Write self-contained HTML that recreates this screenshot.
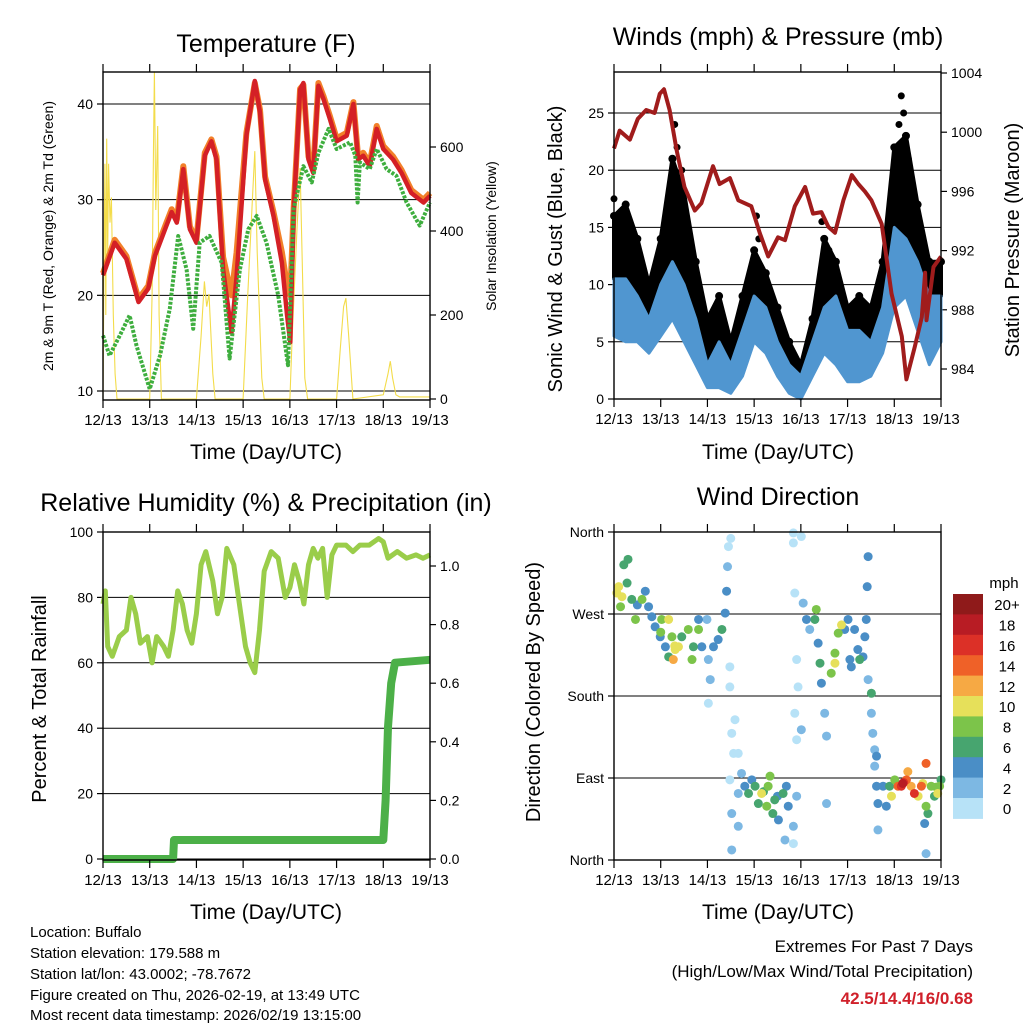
<!DOCTYPE html>
<html><head><meta charset="utf-8">
<style>
html,body{margin:0;padding:0;background:#fff;}
svg{display:block;font-family:"Liberation Sans",Arial,sans-serif;}
</style></head>
<body>
<svg id="fig" width="1024" height="1024" viewBox="0 0 1024 1024" xmlns="http://www.w3.org/2000/svg">
<rect width="1024" height="1024" fill="#fff"/>
<text x="266" y="52" font-size="25" text-anchor="middle">Temperature (F)</text>
<text x="778" y="45" font-size="25" text-anchor="middle">Winds (mph) &amp; Pressure (mb)</text>
<text x="266" y="511" font-size="25" text-anchor="middle">Relative Humidity (%) &amp; Precipitation (in)</text>
<text x="778" y="505" font-size="25" text-anchor="middle">Wind Direction</text>

<text x="266" y="459" font-size="21" text-anchor="middle">Time (Day/UTC)</text>
<text x="778" y="459" font-size="21" text-anchor="middle">Time (Day/UTC)</text>
<text x="266" y="919" font-size="21" text-anchor="middle">Time (Day/UTC)</text>
<text x="778" y="919" font-size="21" text-anchor="middle">Time (Day/UTC)</text>

<text transform="translate(53,236) rotate(-90)" font-size="14" text-anchor="middle">2m &amp; 9m T (Red, Orange) &amp; 2m Td (Green)</text>
<text transform="translate(496,236) rotate(-90)" font-size="14" text-anchor="middle">Solar Insolation (Yellow)</text>
<text transform="translate(562,249) rotate(-90)" font-size="20" text-anchor="middle">Sonic Wind &amp; Gust (Blue, Black)</text>
<text transform="translate(1019,240) rotate(-90)" font-size="20" text-anchor="middle">Station Pressure (Maroon)</text>
<text transform="translate(46,699) rotate(-90)" font-size="20" text-anchor="middle">Percent &amp; Total Rainfall</text>
<text transform="translate(540,692) rotate(-90)" font-size="20" text-anchor="middle">Direction (Colored By Speed)</text>

<g font-size="15">
<text x="30" y="937">Location: Buffalo</text>
<text x="30" y="958">Station elevation: 179.588 m</text>
<text x="30" y="979">Station lat/lon: 43.0002; -78.7672</text>
<text x="30" y="1000">Figure created on Thu, 2026-02-19, at 13:49 UTC</text>
<text x="30" y="1020">Most recent data timestamp: 2026/02/19 13:15:00</text>
</g>
<g font-size="17" text-anchor="end">
<text x="973" y="952">Extremes For Past 7 Days</text>
<text x="973" y="977">(High/Low/Max Wind/Total Precipitation)</text>
<text x="973" y="1004" fill="#d0202a" font-weight="bold">42.5/14.4/16/0.68</text>
</g>
<g id="layer"></g>
</svg>
<script>
const dayLabels=["12/13","13/13","14/13","15/13","16/13","17/13","18/13","19/13"];
// Temperature (F) 2m red
const tempT=[0,0.25,0.5,0.76,0.97,1.11,1.36,1.47,1.58,1.72,1.86,2.0,2.18,2.32,2.43,2.57,2.75,2.86,3.07,3.25,3.36,3.47,3.65,3.83,3.94,4.01,4.08,4.22,4.29,4.40,4.5,4.61,4.72,4.86,5.0,5.22,5.36,5.46,5.57,5.71,5.86,6.0,6.21,6.39,6.6,6.86,7.0];
const temp2m=[22.1,25.5,23.8,19.3,20.7,24.1,27.3,28.7,27.6,33.2,26.9,25.5,34.6,36.1,34.2,22.7,16.1,22,36.7,42.4,39.1,32.1,28.3,23.4,17.9,15.1,28.7,41.5,42.2,34.2,32.8,41.9,40.5,38.4,36.1,36.7,40,34.2,34.6,33.5,37.4,35.3,34.2,32.8,30.7,29.7,30.4];
const temp9m=[22.3,25.8,24.1,19.6,21,24.4,27.6,29,27.9,33.5,27.2,25.8,34.9,36.3,34.5,24,20,24.5,37,42.2,39.4,32.4,28.7,24.5,21,20,29,41.6,42,34.5,33.1,42.2,40.8,38.7,36.4,37,40.2,34.5,34.9,33.8,37.7,35.6,34.5,33.1,31,30,30.7];
const tdT=[0,0.14,0.36,0.57,0.72,1.0,1.22,1.43,1.61,1.79,1.93,2.07,2.28,2.54,2.71,2.93,3.11,3.29,3.5,3.75,3.96,4.08,4.29,4.47,4.61,4.83,5.0,5.29,5.4,5.45,5.5,5.71,5.86,6.07,6.28,6.5,6.78,7.0];
const dew2m=[15.8,13.7,15.8,17.9,14.7,10.2,13.7,18.6,26.2,22.7,16.5,25.5,26.2,23.4,13.4,22.7,26.9,28.3,25.5,20,12.7,29,33.5,31.8,34.9,37.4,35.3,36,34.6,29.7,33.9,33.2,35.3,33.2,32.5,29.7,27.3,29.7];
const solarT=[0,0.02,0.04,0.06,0.08,0.1,0.12,0.15,0.18,0.22,0.26,0.3,1.0,1.05,1.08,1.1,1.13,1.17,1.2,1.25,2.0,2.1,2.17,2.22,2.27,2.35,2.4,3.0,3.1,3.2,3.25,3.3,3.4,3.45,4.0,4.05,4.15,4.22,4.27,4.32,4.38,5.0,5.08,5.15,5.2,5.26,5.35,6.0,6.1,6.15,6.2,6.27,6.35,7.0];
const solarV=[0,300,560,200,620,350,560,420,480,200,60,0,0,250,600,780,450,650,200,0,0,150,280,220,250,60,0,0,250,480,590,350,50,0,0,150,400,550,300,50,0,0,120,220,240,150,0,10,60,90,50,10,5,5];
// Winds (mph)
const windT=[0,0.25,0.5,0.75,1,1.25,1.5,1.75,2,2.25,2.5,2.75,3,3.25,3.5,3.75,4,4.25,4.5,4.75,5,5.25,5.5,5.75,6,6.25,6.5,6.75,7];
const windLo=[5.5,5,5,4,5.5,7,5,3,1,1,0.5,2,5,4,2,0.5,0,2,4,3,1.5,1.5,2,4,8,9,6,3,5];
const windHi=[10.5,10.5,9,7,10,12,10,7,3,5,3,6,9,8,5,3,2,5,8,9,6,6,5,8,15,14,12,9,9];
const gustV=[16,17,14,10,14,21,18,12,7,9,5,9,13,11,8,5,3,7,14,12,8,9,8,12,22,23,17,12,12];
const gustPeakT=[0,0.1,0.3,1.3,1.35,1.45,3.05,3.1,4.45,4.5,4.6,6.1,6.15,6.2,6.3,6.4,2.2,0.9];
const gustPeakV=[17.5,15,13,24,22,20,16,14,15.5,14,13,24,26.5,25,21,18,8,9];
const presT=[0,0.12,0.34,0.51,0.69,0.87,0.98,1.07,1.19,1.34,1.51,1.73,1.87,2.12,2.26,2.48,2.66,2.94,3.12,3.3,3.51,3.66,3.87,4.09,4.26,4.44,4.59,4.73,4.91,5.09,5.23,5.37,5.51,5.73,5.94,6.16,6.26,6.44,6.59,6.66,6.69,6.84,7.0];
const presV=[998.9,1000.1,999.5,1000.9,1001.5,1001.3,1002.6,1002.9,1001.5,998.8,996.3,994.7,995.2,997.7,996.5,996.9,995.4,995,993.2,991.6,992.9,992.7,995,996.3,994.5,994.6,993.6,993.2,995.4,997.1,996.5,996,995.4,993.8,989.1,986.2,983.3,985.5,987.5,990.5,987.3,990.9,991.6];
// Humidity / precipitation
const rhT=[0,0.05,0.1,0.2,0.35,0.5,0.6,0.7,0.8,0.95,1.05,1.15,1.3,1.4,1.5,1.6,1.7,1.8,1.9,2.0,2.1,2.2,2.35,2.45,2.55,2.65,2.8,2.95,3.05,3.15,3.25,3.35,3.45,3.6,3.75,3.9,4.0,4.1,4.2,4.3,4.4,4.5,4.6,4.7,4.8,4.9,5.0,5.2,5.35,5.5,5.7,5.9,6.0,6.1,6.3,6.5,6.7,6.85,7.0];
const rhV=[78,82,65,62,68,70,80,75,66,68,60,68,65,62,70,82,78,70,66,75,90,94,85,75,80,95,90,75,65,60,57,70,88,94,92,80,83,90,85,78,90,95,92,95,80,93,96,96,94,96,96,98,97,92,94,92,93,92,93];
const precT=[0,1.5,1.52,6.0,6.05,6.1,6.17,6.25,7.0];
const precV=[0,0,0.065,0.065,0.2,0.45,0.6,0.67,0.68];
// Wind direction (deg) colored by speed (mph)
const dirT=[0.06,0.17,0.14,0.28,0.21,0.3,0.38,0.46,0.6,0.67,0.74,0.81,0.88,1.02,1.17,0.99,1.1,1.24,1.31,1.27,1.17,1.38,1.45,1.59,1.67,1.7,1.81,1.88,1.81,1.99,2.02,2.06,2.02,2.13,2.23,2.31,2.38,2.41,2.43,2.45,2.5,2.48,2.48,2.52,2.59,2.56,2.48,2.52,2.52,2.66,2.66,2.73,2.8,2.66,2.88,2.95,3.02,3.09,3.16,3.27,3.34,3.3,3.44,3.4,3.52,3.62,3.69,3.73,3.66,3.84,3.84,3.91,3.84,3.84,4.01,3.87,3.91,3.94,3.87,3.91,4.01,4.05,4.12,4.19,4.3,4.33,4.37,4.41,4.44,4.51,4.55,4.55,4.65,4.73,4.73,4.8,4.87,4.94,5.01,5.05,5.08,5.15,5.22,5.26,5.33,5.37,5.4,5.44,5.42,5.44,5.51,5.51,5.54,5.58,5.62,5.58,5.62,5.65,5.65,5.76,5.83,5.9,5.94,6.01,6.08,6.15,6.18,6.26,6.29,6.36,6.43,6.51,6.58,6.61,6.68,6.68,6.72,6.65,6.68,6.79,6.86,6.93,7.0,6.97,0.1,0.5,1.0,1.3,3.2,3.5,6.2,6.9];
const dirV=[293,289,278,304,324,330,286,264,286,295,278,267,256,264,264,245,234,245,231,220,223,234,245,253,220,234,253,234,264,264,220,198,172,234,242,253,271,295,322,344,353,212,190,139,154,117,88,51,11,117,73,95,81,37,73,88,81,62,73,59,92,81,66,51,44,73,81,59,22,37,18,70,359,348,355,293,220,190,161,132,143,282,264,253,264,275,238,216,194,161,136,62,205,216,227,249,258,253,264,220,212,253,231,220,223,245,264,333,300,198,183,161,139,121,114,103,81,62,33,81,59,81,70,88,81,81,84,88,97,81,73,70,81,84,106,59,51,40,7,81,70,73,88,81,300,280,250,235,75,70,85,80];
const dirS=[10,10,8,6,6,6,6,8,8,4,4,4,4,8,10,4,4,8,10,12,6,10,6,8,8,6,8,4,4,2,2,2,0,4,4,6,4,4,2,0,0,0,0,0,0,0,0,2,2,0,2,2,4,2,6,4,6,6,10,8,8,8,6,6,4,6,4,4,2,2,0,2,0,0,0,0,0,0,0,0,2,2,4,2,6,8,4,6,4,2,2,2,8,10,8,8,10,4,4,4,4,4,4,6,4,4,4,4,4,2,6,2,2,2,4,2,4,4,2,4,4,6,10,8,14,16,18,14,12,12,16,10,14,10,14,8,6,4,2,8,6,10,6,8,10,4,8,10,6,4,16,8];
const speedLabels=["0","2","4","6","8","10","12","14","16","18","20+"];
const speedColors=["#b7e2f7","#7db8e3","#4a8ec6","#47a56f","#7cc44a","#e6e05a","#f6a944","#ef6128","#dc3027","#b81c24","#8f1a1a"];

const NS="http://www.w3.org/2000/svg";
const layer=document.getElementById("layer");
function el(tag,attrs,parent){const e=document.createElementNS(NS,tag);for(const k in attrs)e.setAttribute(k,attrs[k]);(parent||layer).appendChild(e);return e;}
function lin(d0,d1,r0,r1){return v=>r0+(v-d0)*(r1-r0)/(d1-d0);}
function pts(xs,ys,fx,fy){return xs.map((t,i)=>fx(t).toFixed(1)+","+fy(ys[i]).toFixed(1)).join(" ");}

function frame(name,L,R,T,B,fx){
  const g=el("g",{});
  
  
  dayLabels.forEach((lab,i)=>{
    const x=fx(i);
    el("line",{x1:x,x2:x,y1:T,y2:T-8,stroke:"#000","stroke-width":1.2},g);
    el("line",{x1:x,x2:x,y1:B,y2:B+8,stroke:"#000","stroke-width":1.2},g);
    const t=el("text",{x:x,y:B+25,"font-size":15,"text-anchor":"middle"},g);
    t.textContent=lab;
    
    
  });
  return g;
}
function box(L,R,T,B,name){
  const r=el("rect",{x:L,y:T,width:R-L,height:B-T,fill:"none",stroke:"#000","stroke-width":1.4});
  
  
}
function yTicks(vals,labels,fy,x,side,grid,L,R,name){
  vals.forEach((v,i)=>{
    const y=fy(v);
    if(grid){const gl=el("line",{x1:L,x2:R,y1:y,y2:y,stroke:"#000","stroke-width":1});
      
      }
    el("line",{x1:x,x2:x+(side<0?-6:6),y1:y,y2:y,stroke:"#000","stroke-width":1.2});
    const t=el("text",{x:x+(side<0?-10:10),y:y+5,"font-size":14,"text-anchor":side<0?"end":"start"});
    t.textContent=labels[i];
    
    
  });
}

// ---------- Panel 1: Temperature ----------
(function(){
  const L=103,R=430,T=72,B=400;
  const fx=lin(0,7,L,R), fy=lin(10,40,391,104), fs=lin(0,600,399,147);
  yTicks([10,20,30,40],["10","20","30","40"],fy,L,-1,true,L,R,"temp");
  yTicks([0,200,400,600],["0","200","400","600"],fs,R,1,false,L,R,"solar");
  const s=el("polyline",{points:pts(solarT,solarV,fx,fs),fill:"none",stroke:"#f3dc4a","stroke-width":1.1});
  
  
  const o=el("polyline",{points:pts(tempT,temp9m,fx,fy),fill:"none",stroke:"#f2802a","stroke-width":6,"stroke-linejoin":"round"});
  
  
  const r=el("polyline",{points:pts(tempT,temp2m,fx,fy),fill:"none",stroke:"#d42026","stroke-width":4.5,"stroke-linejoin":"round"});
  
  
  const g=el("polyline",{points:pts(tdT,dew2m,fx,fy),fill:"none",stroke:"#3eae3e","stroke-width":4,"stroke-dasharray":"3 1.5","stroke-linejoin":"round"});
  
  
  box(L,R,T,B,"temp"); frame("temp",L,R,T,B,fx);
})();

// ---------- Panel 2: Winds ----------
(function(){
  const L=614,R=941,T=72,B=399;
  const fx=lin(0,7,L,R), fy=lin(0,25,399,113), fp=lin(984,1004,369,73);
  yTicks([0,5,10,15,20,25],["0","5","10","15","20","25"],fy,L,-1,true,L,R,"wind");
  yTicks([984,988,992,996,1000,1004],["984","988","992","996","1000","1004"],fp,R,1,false,L,R,"pressure");
  const gp=pts(windT,gustV,fx,fy)+" "+pts(windT.slice().reverse(),windHi.slice().reverse(),fx,fy);
  const gb=el("polygon",{points:gp,fill:"#000",stroke:"#000","stroke-width":4,"stroke-linejoin":"round"});
  
  
  windT.forEach((t,i)=>{const c=el("circle",{cx:fx(t),cy:fy(gustV[i]),r:4,fill:"#000"});
    
    });
  gustPeakT.forEach((t,i)=>{const c=el("circle",{cx:fx(t),cy:fy(gustPeakV[i]),r:3.5,fill:"#000"});
    
    });
  const wp=pts(windT,windHi,fx,fy)+" "+pts(windT.slice().reverse(),windLo.slice().reverse(),fx,fy);
  const wb=el("polygon",{points:wp,fill:"#5096d0",stroke:"#5096d0","stroke-width":3,"stroke-linejoin":"round"});
  
  
  const p=el("polyline",{points:pts(presT,presV,fx,fp),fill:"none",stroke:"#a01c1c","stroke-width":4,"stroke-linejoin":"round"});
  
  
  box(L,R,T,B,"winds"); frame("winds",L,R,T,B,fx);
})();

// ---------- Panel 3: Humidity ----------
(function(){
  const L=103,R=430,T=532,B=860;
  const fx=lin(0,7,L,R), fy=lin(0,100,859,532), fr=lin(0,1,859,566);
  yTicks([0,20,40,60,80,100],["0","20","40","60","80","100"],fy,L,-1,true,L,R,"rh");
  yTicks([0,0.2,0.4,0.6,0.8,1.0],["0.0","0.2","0.4","0.6","0.8","1.0"],fr,R,1,false,L,R,"precip");
  const h=el("polyline",{points:pts(rhT,rhV,fx,fy),fill:"none",stroke:"#9acd4a","stroke-width":5,"stroke-linejoin":"round"});
  
  
  const p=el("polyline",{points:pts(precT,precV,fx,fr),fill:"none",stroke:"#4cb048","stroke-width":8,"stroke-linejoin":"round"});
  
  
  box(L,R,T,B,"humidity"); frame("humidity",L,R,T,B,fx);
})();

// ---------- Panel 4: Wind direction ----------
(function(){
  const L=614,R=941,T=532,B=860;
  const fx=lin(0,7,L,R), fy=lin(0,360,860,532);
  yTicks([0,90,180,270,360],["North","East","South","West","North"],fy,L,-1,false,L,R,"direction");
  [90,180,270].forEach(v=>{const gl=el("line",{x1:L,x2:R,y1:fy(v),y2:fy(v),stroke:"#000","stroke-width":1});
    
    });
  const idx=dirT.map((t,i)=>i).sort((a,b)=>dirS[a]-dirS[b]);
  idx.forEach(i=>{
    const c=el("circle",{cx:fx(dirT[i]),cy:fy(dirV[i]),r:4.5,fill:speedColors[Math.min(10,Math.floor(dirS[i]/2))]});
    
    
  });
  box(L,R,T,B,"direction"); frame("direction",L,R,T,B,fx);
  // colorbar
  const cb=el("g",{});
  
  
  const t=el("text",{x:1004,y:588,"font-size":15,"text-anchor":"middle"},cb);
  t.textContent="mph";
  
  
  const top=594,h=20.4;
  speedLabels.forEach((lab,i)=>{
    const k=10-i, y=top+i*h;
    const r=el("rect",{x:953,y:y,width:30,height:h+0.5,fill:speedColors[k]},cb);
    
    
    const tx=el("text",{x:1007,y:y+h/2+6,"font-size":15,"text-anchor":"middle"},cb);
    tx.textContent=speedLabels[k];
    
    
  });
})();
</script>
</body></html>
